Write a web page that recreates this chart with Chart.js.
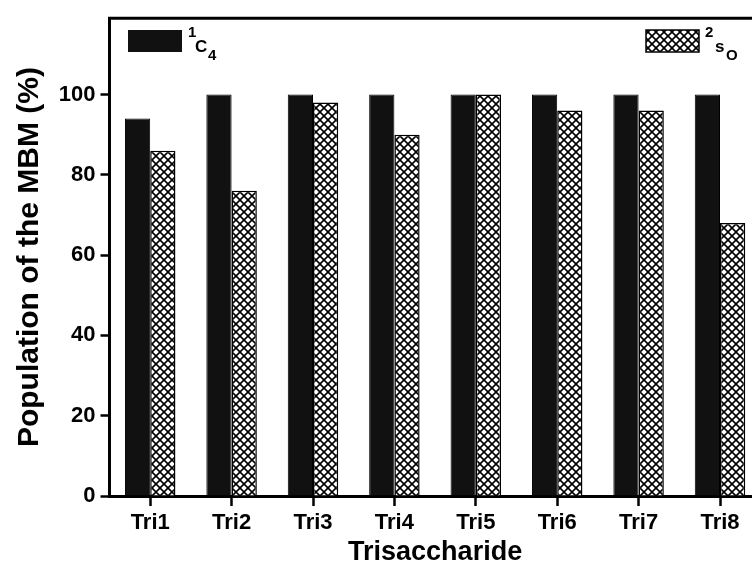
<!DOCTYPE html>
<html>
<head>
<meta charset="utf-8">
<script src="https://cdn.jsdelivr.net/npm/chart.js@4.4.1/dist/chart.umd.min.js"></script>
<style>
  html, body { margin: 0; padding: 0; background: #fff; }
  #wrap { width: 752px; height: 566px; overflow: hidden; }
  canvas { display: block; }
</style>
</head>
<body>
<div id="wrap"><canvas id="myChart" width="780" height="566" style="width:780px;height:566px"></canvas></div>
<script>
// Datos
const categories = ['Tri1', 'Tri2', 'Tri3', 'Tri4', 'Tri5', 'Tri6', 'Tri7', 'Tri8'];
const chairValues = [94, 100, 100, 100, 100, 100, 100, 100];   // 1C4
const skewValues = [86, 76, 98, 90, 100, 96, 96, 68];          // 2SO
const yTicks = [0, 20, 40, 60, 80, 100];

Chart.defaults.font.family = '"Liberation Sans", Arial, sans-serif';
Chart.defaults.color = '#000';

// Trama de rombos para la segunda serie
function crossHatch() {
    const c = document.createElement('canvas');
    c.width = 8;
    c.height = 8;
    const p = c.getContext('2d');
    p.fillStyle = '#fff';
    p.fillRect(0, 0, 8, 8);
    p.strokeStyle = '#000';
    p.lineWidth = 1.6;
    p.beginPath();
    p.moveTo(-2, -2); p.lineTo(10, 10);
    p.moveTo(-2, 10); p.lineTo(10, -2);
    p.stroke();
    return p.createPattern(c, 'repeat');
}
const ctx = document.getElementById('myChart').getContext('2d');
const hatch = crossHatch();

// Marco superior y leyenda con superíndices/subíndices
const framePlugin = {
    id: 'frame',
    afterDraw(chart) {
        const { ctx, chartArea } = chart;
        ctx.save();
        ctx.strokeStyle = '#000';
        ctx.lineWidth = 3;
        ctx.beginPath();
        ctx.moveTo(chartArea.left - 1.5, chartArea.top);
        ctx.lineTo(chart.width, chartArea.top);
        ctx.stroke();

        // leyenda izquierda
        ctx.fillStyle = '#111';
        ctx.fillRect(128, 30, 54, 22);
        // leyenda derecha
        ctx.fillStyle = hatch;
        ctx.fillRect(646, 30, 53, 22);
        ctx.lineWidth = 1.5;
        ctx.strokeRect(646, 30, 53, 22);

        ctx.fillStyle = '#000';
        ctx.textBaseline = 'alphabetic';
        ctx.textAlign = 'left';
        ctx.font = 'bold 15px "Liberation Sans", Arial, sans-serif';
        ctx.fillText('1', 188, 37);
        ctx.fillText('4', 208, 60);
        ctx.fillText('2', 705, 37);
        ctx.fillText('O', 726, 60);
        ctx.font = 'bold 17px "Liberation Sans", Arial, sans-serif';
        ctx.fillText('C', 195, 52);
        ctx.fillText('s', 715, 52);
        ctx.restore();
    },
};

new Chart(ctx, {
    type: 'bar',
    data: {
        labels: categories,
        datasets: [
            {
                label: '1C4',
                data: chairValues,
                backgroundColor: '#111',
                borderColor: '#000',
                borderWidth: 1,
            },
            {
                label: '2SO',
                data: skewValues,
                backgroundColor: hatch,
                borderColor: '#000',
                borderWidth: 1.5,
            },
        ],
    },
    options: {
        responsive: false,
        animation: false,
        devicePixelRatio: 1,
        layout: { padding: { top: 17, right: 19.3, left: 0, bottom: 0 } },
        datasets: {
            bar: { barPercentage: 1, categoryPercentage: 0.62 },
        },
        plugins: {
            legend: { display: false },
            tooltip: { enabled: false },
        },
        scales: {
            x: {
                afterFit: (s) => { s.height = 70; },
                grid: {
                    offset: false,
                    drawOnChartArea: false,
                    drawTicks: true,
                    tickLength: 10,
                    tickWidth: 2.5,
                    tickColor: '#000',
                },
                border: { display: true, color: '#000', width: 3 },
                ticks: {
                    padding: 4,
                    font: { size: 22, weight: 'bold' },
                    color: '#000',
                },
                title: {
                    display: true,
                    text: 'Trisaccharide',
                    font: { size: 27, weight: 'bold', lineHeight: 1 },
                    padding: { top: 0, bottom: 0 },
                    color: '#000',
                },
            },
            y: {
                min: 0,
                max: 119,
                afterFit: (s) => { s.width = 109.5; },
                afterBuildTicks: (s) => { s.ticks = yTicks.map((v) => ({ value: v })); },
                grid: {
                    drawOnChartArea: false,
                    drawTicks: true,
                    tickLength: 9,
                    tickWidth: 2.5,
                    tickColor: '#000',
                },
                border: { display: true, color: '#000', width: 3 },
                ticks: {
                    padding: 5,
                    font: { size: 22, weight: 'bold' },
                    color: '#000',
                },
                title: {
                    display: true,
                    text: 'Population of the MBM (%)',
                    font: { size: 30, weight: 'bold', lineHeight: 1 },
                    padding: { top: 15, bottom: 0 },
                    color: '#000',
                },
            },
        },
    },
    plugins: [framePlugin],
});
</script>
</body>
</html>
